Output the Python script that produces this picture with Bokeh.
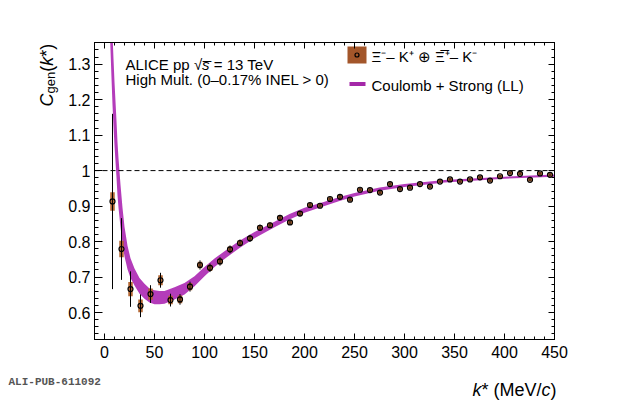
import numpy as np
from bokeh.plotting import figure
from bokeh.models import (Range1d, LinearAxis, SingleIntervalTicker,
                          CustomJSTickFormatter, Span, Label)
from bokeh.embed import file_html
from bokeh.resources import INLINE

# ---------------- data ----------------
kstar = [8, 17, 26, 36, 46, 56, 66, 75.5, 85.5, 95.5, 105.5, 115.5, 125.5,
         135.5, 145.5, 155.5, 165.5, 175.5, 185.5, 195.5, 205.5, 215.5,
         225.5, 235.5, 245.5, 255.5, 265.5, 275.5, 285.5, 295.5, 305.5,
         315.5, 325.5, 335.5, 345.5, 355.5, 365.5, 375.5, 385.5, 395.5,
         405.5, 415.5, 425.5, 435.5, 445.5]
cf = [0.913, 0.779, 0.666, 0.619, 0.652, 0.691, 0.635, 0.637, 0.673, 0.734,
      0.726, 0.744, 0.778, 0.796, 0.809, 0.839, 0.846, 0.867, 0.854, 0.879,
      0.903, 0.901, 0.920, 0.926, 0.918, 0.946, 0.945, 0.938, 0.962, 0.948,
      0.952, 0.962, 0.955, 0.969, 0.975, 0.969, 0.975, 0.981, 0.972, 0.984,
      0.993, 0.991, 0.974, 0.992, 0.988]
stat = [0.247, 0.087, 0.050, 0.032, 0.025, 0.021, 0.018, 0.015, 0.014, 0.013,
        0.012, 0.012, 0.011, 0.010, 0.010, 0.009, 0.008, 0.008, 0.007, 0.007,
        0.006, 0.006, 0.006, 0.006, 0.005, 0.005, 0.005, 0.005, 0.005, 0.005,
        0.004, 0.004, 0.004, 0.004, 0.004, 0.004, 0.004, 0.004, 0.004, 0.004,
        0.004, 0.004, 0.004, 0.004, 0.004]
syst = [0.026, 0.023, 0.020, 0.018, 0.016, 0.014, 0.012, 0.011, 0.010, 0.009,
        0.009, 0.008, 0.008, 0.008, 0.007, 0.007, 0.007, 0.006, 0.006, 0.006,
        0.006, 0.005, 0.005, 0.005, 0.005, 0.005, 0.005, 0.005, 0.005, 0.005,
        0.005, 0.005, 0.005, 0.005, 0.005, 0.005, 0.005, 0.005, 0.005, 0.005,
        0.005, 0.005, 0.005, 0.005, 0.005]

model_k = [5, 6, 7, 8, 9, 10, 11, 12, 13, 14, 16, 18, 20, 23, 26, 30, 35, 40,
           45, 50, 55, 60, 70, 80, 90, 100, 110, 120, 135, 150, 170, 185, 200,
           220, 235, 250, 275, 300, 340, 400, 450]
model_c = [1.52, 1.44, 1.36, 1.285, 1.22, 1.16, 1.11, 1.06, 1.005, 0.965,
           0.90, 0.845, 0.80, 0.755, 0.725, 0.70, 0.675, 0.66, 0.648, 0.643,
           0.642, 0.643, 0.654, 0.667, 0.688, 0.715, 0.740, 0.762, 0.792,
           0.818, 0.848, 0.870, 0.888, 0.906, 0.920, 0.932, 0.948, 0.958,
           0.970, 0.980, 0.986]
model_hw = [0.10, 0.10, 0.10, 0.10, 0.095, 0.09, 0.085, 0.08, 0.075, 0.07,
            0.06, 0.05, 0.042, 0.033, 0.028, 0.024, 0.022, 0.021, 0.020,
            0.020, 0.019, 0.018, 0.017, 0.016, 0.014, 0.013, 0.012, 0.011,
            0.010, 0.009, 0.008, 0.0075, 0.007, 0.006, 0.0055, 0.005, 0.0045,
            0.004, 0.0035, 0.003, 0.003]

x_major = 50
y_major = 0.1

# ---------------- layout helpers ----------------
FONT = "Liberation Sans"
X0, Y0, X1, Y1 = -10, 0.524, 450, 1.361
FL, FT = 95, 43          # frame left/top in picture px
SY = 355.0               # px per y unit


def kx(px):
    return (px - FL) + X0


def cy(py):
    return Y1 - (py - FT) / SY


p = figure(frame_width=460, frame_height=297, output_backend="svg",
           toolbar_location=None, x_range=Range1d(X0, X1),
           y_range=Range1d(Y0, Y1), min_border_left=94, min_border_right=50,
           min_border_top=42, min_border_bottom=48)
p.grid.visible = False
p.outline_line_color = "black"
p.background_fill_color = "white"
p.border_fill_color = "white"

yfmt = CustomJSTickFormatter(code="return String(Math.round(tick*10)/10);")
blank = CustomJSTickFormatter(code="return '';")

p.xaxis.ticker = SingleIntervalTicker(interval=x_major, num_minor_ticks=5)
p.yaxis.ticker = SingleIntervalTicker(interval=y_major, num_minor_ticks=5)
p.yaxis.formatter = yfmt
for ax, (mj, mn) in ((p.xaxis, (6, 3)), (p.yaxis, (8, 4))):
    ax.major_tick_in = mj
    ax.major_tick_out = 0
    ax.minor_tick_in = mn
    ax.minor_tick_out = 0
    ax.major_label_text_font = FONT
    ax.major_label_text_font_size = "16px"
    ax.major_label_text_color = "black"
    ax.axis_line_color = "black"
    ax.major_tick_line_color = "black"
    ax.minor_tick_line_color = "black"
p.xaxis.major_label_standoff = 6
p.yaxis.major_label_standoff = 4

right = LinearAxis(ticker=SingleIntervalTicker(interval=y_major, num_minor_ticks=5),
                   formatter=blank, major_tick_in=6, major_tick_out=0,
                   minor_tick_in=3, minor_tick_out=0, major_label_standoff=0,
                   major_label_text_font_size="1px")
above = LinearAxis(ticker=SingleIntervalTicker(interval=x_major, num_minor_ticks=5),
                   formatter=blank, major_tick_in=6, major_tick_out=0,
                   minor_tick_in=3, minor_tick_out=0, major_label_standoff=0,
                   major_label_text_font_size="1px")
p.add_layout(right, "right")
p.add_layout(above, "above")

# ---------------- glyphs ----------------
mk = np.array(model_k, dtype=float)
mc = np.array(model_c)
mh = np.array(model_hw)
p.varea(x=mk, y1=mc - mh, y2=mc + mh, fill_color="#b43cba", fill_alpha=1.0)

p.add_layout(Span(location=1.0, dimension="width", line_color="black",
                  line_width=1, line_dash="5 3"))

k = np.array(kstar)
c = np.array(cf)
st = np.array(stat)
sy = np.array(syst)
p.rect(x=k, y=c, width=4.5, height=2 * sy, fill_color="#b0602a",
       fill_alpha=0.95, line_color=None)
p.segment(x0=k, y0=c - st, x1=k, y1=c + st, line_color="black", line_width=1)
p.scatter(x=k, y=c, marker="circle", size=5, line_color="black",
          fill_color=None, line_width=1.2)

# ---------------- legend (manual) ----------------
p.rect(x=[kx(357.5)], y=[cy(55.5)], width=19, height=17 / SY,
       fill_color="#a3562a", line_color=None)
p.scatter(x=[kx(357.5)], y=[cy(55.5)], marker="circle", size=4,
          line_color="black", fill_color=None, line_width=1.2)
p.line(x=[kx(350), kx(366)], y=[cy(84.5), cy(84.5)], line_color="#a428a8",
       line_width=4)


def lab(px, py, text, size="15px", style="normal", align="left",
        baseline="alphabetic", angle=0.0, font=FONT, color="black",
        place="center"):
    lb = Label(x=kx(px), y=cy(py), text=text, text_font=font,
               text_font_size=size, text_font_style=style,
               text_align=align, text_baseline=baseline,
               angle=angle, text_color=color)
    if place == "center":
        p.add_layout(lb)
    else:
        p.add_layout(lb, place)


lab(372, 57.5, "Ξ⁻– K⁺ ⊕ Ξ̅⁺– K⁻", baseline="middle")
lab(372, 86, "Coulomb + Strong (LL)", baseline="middle")

# top-left text
lab(126, 65, "ALICE pp")
lab(194.4, 65, "√")
lab(202.6, 65, "s̅", style="italic")
lab(214.3, 65, "= 13 TeV")
lab(126, 80.5, "High Mult. (0–0.17% INEL > 0)")

# x axis title
lab(557, 391, ")", size="18px", align="right", place="below")
lab(551, 391, "c", size="18px", style="italic", align="right", place="below")
lab(542, 391, "* (MeV/", size="18px", align="right", place="below")
lab(482, 391, "k", size="18px", style="italic", align="right", place="below")

# y axis title (rotated)
A = np.pi / 2
lab(47, 107, "C", size="18px", style="italic", angle=A, place="below")
lab(51, 94, "gen", size="13px", angle=A, place="below")
lab(47, 72.3, "(", size="18px", angle=A, place="below")
lab(47, 66.3, "k", size="18px", style="italic", angle=A, place="below")
lab(47, 57.3, "*)", size="18px", angle=A, place="below")

# publication tag
lab(9, 383, "ALI-PUB-611092", size="11px", style="bold", baseline="middle",
    font="Liberation Mono", color="#555555", place="below")

open("out.html", "w").write(file_html(p, INLINE))
